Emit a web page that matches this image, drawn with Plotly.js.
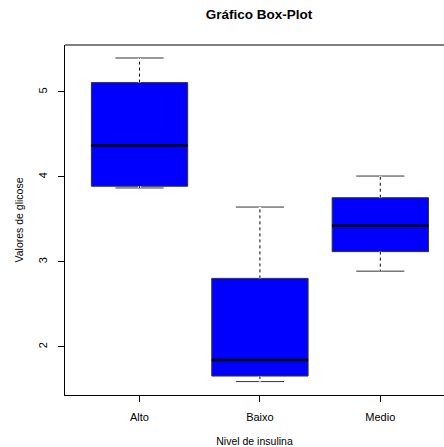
<!DOCTYPE html>
<html>
<head>
<meta charset="utf-8">
<script src="https://cdn.plot.ly/plotly-3.0.1.min.js"></script>
<style>html,body{margin:0;padding:0;background:#fff;}#chart{width:444px;height:447px;}</style>
</head>
<body>
<div id="chart"></div>
<script>
const categories = ["Alto", "Baixo", "Medio"];
const lowerWhisker = [3.87, 1.59, 2.89];
const q1 = [3.89, 1.655, 3.12];
const medians = [4.37, 1.845, 3.425];
const q3 = [5.11, 2.805, 3.755];
const upperWhisker = [5.40, 3.645, 4.01];
const yTicks = [2, 3, 4, 5];

const pos = categories.map((c, i) => i);
const halfBox = 0.4;

const wx = [], wy = [];
pos.forEach((p, i) => {
  wx.push(p, p, null, p, p, null);
  wy.push(q3[i], upperWhisker[i], null, q1[i], lowerWhisker[i], null);
});
const mx = [], my = [];
pos.forEach((p, i) => {
  mx.push(p - halfBox, p + halfBox, null);
  my.push(medians[i], medians[i], null);
});

const traces = [
  {
    type: 'box',
    x: pos,
    q1: q1, median: medians, q3: q3,
    lowerfence: lowerWhisker, upperfence: upperWhisker,
    width: 0.8,
    whiskerwidth: 0.5,
    fillcolor: '#0000FF',
    line: {color: '#333333', width: 1},
    hoverinfo: 'skip',
    showlegend: false
  },
  {
    type: 'scatter', mode: 'lines', x: wx, y: wy,
    line: {color: '#FFFFFF', width: 2.5}, hoverinfo: 'skip', showlegend: false
  },
  {
    type: 'scatter', mode: 'lines', x: wx, y: wy,
    line: {color: '#000000', width: 1, dash: '3px,3px'}, hoverinfo: 'skip', showlegend: false
  },
  {
    type: 'scatter', mode: 'lines', x: mx, y: my,
    line: {color: '#000000', width: 2.5}, hoverinfo: 'skip', showlegend: false
  }
];

const layout = {
  width: 444, height: 447,
  margin: {l: 65, r: 0, t: 45, b: 52},
  paper_bgcolor: '#FFFFFF', plot_bgcolor: '#FFFFFF',
  font: {family: 'Liberation Sans, Arial, sans-serif', color: '#000000', size: 11},
  title: {
    text: '<b>Gráfico Box-Plot</b>',
    font: {size: 13.5, family: 'Liberation Sans, Arial, sans-serif', color: '#000'},
    x: 259 / 444, xref: 'container', xanchor: 'center',
    y: 1 - 14 / 447, yref: 'container', yanchor: 'middle'
  },
  xaxis: {
    range: [-0.619, 2.529],
    tickvals: pos, ticktext: categories,
    showgrid: false, zeroline: false,
    showline: true, linecolor: '#000', linewidth: 1,
    ticks: 'outside', ticklen: 6, tickcolor: '#000', tickwidth: 1,
    ticklabelstandoff: 6,
    tickfont: {size: 11},
    title: {text: 'Nivel de insulina', font: {size: 10.5}, standoff: 21},
    automargin: false
  },
  yaxis: {
    range: [1.432, 5.553],
    tickvals: yTicks, ticktext: yTicks.map(String),
    tickangle: -90,
    showgrid: false, zeroline: false,
    showline: true, linecolor: '#000', linewidth: 1,
    ticks: 'outside', ticklen: 6, tickcolor: '#000', tickwidth: 1,
    ticklabelstandoff: 7,
    tickfont: {size: 11},
    title: {text: 'Valores de glicose', font: {size: 10.5}, standoff: 10},
    automargin: false
  },
  shapes: [
    {type: 'line', xref: 'paper', yref: 'paper', x0: 0, x1: 1, y0: 1, y1: 1,
     line: {color: '#000', width: 1}}
  ]
};

Plotly.newPlot('chart', traces, layout, {displayModeBar: false, staticPlot: true});
</script>
</body>
</html>
